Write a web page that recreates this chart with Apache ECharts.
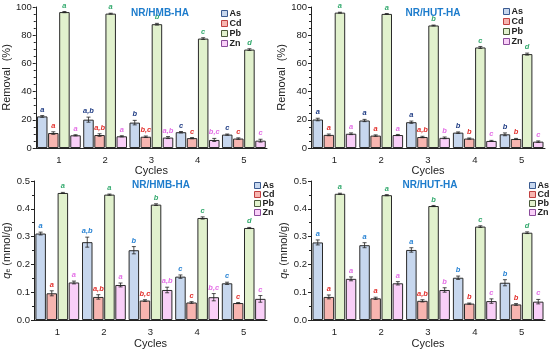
<!DOCTYPE html>
<html><head><meta charset="utf-8">
<script src="https://cdn.jsdelivr.net/npm/echarts@6/dist/echarts.min.js"></script>
<style>html,body{margin:0;padding:0;background:#fff}#c{width:550px;height:352px}</style>
</head><body><div id="c"></div>
<script>
const cycles = ['1','2','3','4','5'];
const metals = ['As','Cd','Pb','Zn'];
const removalTicks = [0,20,40,60,80,100];
const qeTicks = ['0.0','0.1','0.2','0.3','0.4','0.5'];

// Panel A: NR/HMB-HA removal (%)
const hmbRemAs = [22.4, 20.1, 18.0, 11.2, 9.5];
const hmbRemCd = [10.6, 9.2, 8.0, 7.0, 6.7];
const hmbRemPb = [96.4, 95.3, 87.8, 77.6, 69.8];
const hmbRemZn = [9.0, 8.3, 7.4, 5.7, 5.2];
const hmbRemErrAs = [0.6, 1.8, 1.6, 0.5, 0.4];
const hmbRemErrCd = [0.9, 0.9, 0.5, 0.4, 0.5];
const hmbRemErrPb = [0.4, 0.3, 0.6, 0.6, 0.6];
const hmbRemErrZn = [0.4, 0.4, 0.7, 1.1, 1.0];

// Panel B: NR/HUT-HA removal (%)
const hutRemAs = [20.2, 19.5, 18.3, 10.9, 9.7];
const hutRemCd = [9.3, 8.8, 7.8, 6.7, 6.4];
const hutRemPb = [96.0, 95.1, 86.9, 71.3, 66.6];
const hutRemZn = [10.1, 9.2, 7.2, 5.0, 4.5];
const hutRemErrAs = [0.9, 0.8, 0.8, 0.5, 1.0];
const hutRemErrCd = [0.6, 0.5, 0.5, 0.4, 0.4];
const hutRemErrPb = [0.3, 0.3, 0.3, 0.7, 0.7];
const hutRemErrZn = [0.6, 0.4, 0.6, 0.4, 0.5];

// Panel C: NR/HMB-HA qe (mmol/g)
const hmbQeAs = [0.311, 0.280, 0.251, 0.156, 0.132];
const hmbQeCd = [0.096, 0.083, 0.070, 0.063, 0.061];
const hmbQePb = [0.457, 0.451, 0.415, 0.367, 0.331];
const hmbQeZn = [0.135, 0.126, 0.108, 0.082, 0.076];
const hmbQeErrAs = [0.005, 0.018, 0.013, 0.006, 0.004];
const hmbQeErrCd = [0.009, 0.008, 0.003, 0.003, 0.002];
const hmbQeErrPb = [0.002, 0.002, 0.003, 0.004, 0.002];
const hmbQeErrZn = [0.005, 0.007, 0.010, 0.013, 0.012];

// Panel D: NR/HUT-HA qe (mmol/g)
const hutQeAs = [0.279, 0.269, 0.252, 0.152, 0.134];
const hutQeCd = [0.083, 0.078, 0.069, 0.059, 0.056];
const hutQePb = [0.454, 0.449, 0.410, 0.336, 0.314];
const hutQeZn = [0.148, 0.132, 0.108, 0.068, 0.066];
const hutQeErrAs = [0.009, 0.009, 0.008, 0.006, 0.011];
const hutQeErrCd = [0.007, 0.004, 0.004, 0.002, 0.003];
const hutQeErrPb = [0.002, 0.002, 0.002, 0.003, 0.003];
const hutQeErrZn = [0.007, 0.006, 0.008, 0.008, 0.008];

// Significance letters
const remHmbLettersAs = ['a','a,b','b','c','c'];
const remHmbLettersCd = ['a','a,b','b,c','c','c'];
const remHmbLettersPb = ['a','a','b','c','d'];
const remHmbLettersZn = ['a','a','a,b','b,c','c'];
const hutLettersAs = ['a','a','a','b','b'];
const hutLettersCd = ['a','a','a,b','b','b'];
const hutLettersPb = ['a','a','b','c','d'];
const hutLettersZn = ['a','a','b','c','c'];

const titles = ['NR/HMB-HA','NR/HUT-HA','NR/HMB-HA','NR/HUT-HA'];

const panels = [
  {vals:[hmbRemAs,hmbRemCd,hmbRemPb,hmbRemZn], errs:[hmbRemErrAs,hmbRemErrCd,hmbRemErrPb,hmbRemErrZn], letters:[remHmbLettersAs,remHmbLettersCd,remHmbLettersPb,remHmbLettersZn], q:false},
  {vals:[hutRemAs,hutRemCd,hutRemPb,hutRemZn], errs:[hutRemErrAs,hutRemErrCd,hutRemErrPb,hutRemErrZn], letters:[hutLettersAs,hutLettersCd,hutLettersPb,hutLettersZn], q:false},
  {vals:[hmbQeAs,hmbQeCd,hmbQePb,hmbQeZn], errs:[hmbQeErrAs,hmbQeErrCd,hmbQeErrPb,hmbQeErrZn], letters:[remHmbLettersAs,remHmbLettersCd,remHmbLettersPb,remHmbLettersZn], q:true},
  {vals:[hutQeAs,hutQeCd,hutQePb,hutQeZn], errs:[hutQeErrAs,hutQeErrCd,hutQeErrPb,hutQeErrZn], letters:[hutLettersAs,hutLettersCd,hutLettersPb,hutLettersZn], q:true}
];

const FONT = '"Liberation Sans", Arial, sans-serif';
const fills = ['#c7d7ee','#f7b5b0','#e1f1cd','#f9cff8'];
const iconBorders = ['#3a5a90','#c04040','#4a5a3a','#8a4a9a'];
const letterColorsTop = ['#1f3c84','#e3302c','#33aa6e','#e46fe6'];
const letterColorsBot = ['#2a84d4','#e3302c','#33aa6e','#e46fe6'];
const grids = [
  {left:33, top:7, width:234, height:141},
  {left:311, top:7, width:234, height:141},
  {left:33, top:181, width:234, height:139},
  {left:311, top:181, width:234, height:139}
];
const legendPos = [{left:216, top:4},{left:498, top:2},{left:249, top:176},{left:524, top:176}];
const titlePos = [{x:155,y:3},{x:428,y:3},{x:156,y:175},{x:425,y:175}];

const BW = 10.5, GAP = 0.6;
const series = [], xAxis = [], yAxis = [], legend = [], title = [];
panels.forEach((p, pi) => {
  xAxis.push({
    type:'category', gridIndex:pi, data:cycles,
    axisLine:{lineStyle:{color:'#222', width:1}}, axisTick:{show:false},
    axisLabel:{color:'#222', fontSize:9.5, fontFamily:FONT, margin:7},
    name:'Cycles', nameLocation:'middle', nameGap:p.q?18:16.5,
    nameTextStyle:{color:'#222', fontSize:11, fontFamily:FONT}
  });
  yAxis.push({
    type:'value', gridIndex:pi, min:0, max:p.q?0.5:100, interval:p.q?0.1:20,
    axisLine:{show:true, lineStyle:{color:'#222', width:1}},
    axisTick:{show:true, length:3, lineStyle:{color:'#222'}},
    minorTick:{show:true, splitNumber:p.q?2:4, length:2, lineStyle:{color:'#222'}},
    splitLine:{show:false},
    axisLabel:{color:'#222', fontSize:9.5, fontFamily:FONT, margin:4,
      formatter: v => p.q ? qeTicks[Math.round(v*10)] : String(removalTicks[Math.round(v/20)])},
    name: p.q ? '{i|q}{s|e}{n| (mmol/g)}' : 'Removal  (%)',
    nameLocation:'middle', nameGap: 22,
    nameTextStyle:{color:'#222', fontSize:11, fontFamily:FONT,
      rich:{i:{fontStyle:'italic', fontSize:11, fontFamily:FONT, color:'#222'},
            s:{fontSize:7, fontFamily:FONT, color:'#222', verticalAlign:'bottom', padding:[4,0,0,0]},
            n:{fontSize:11, fontFamily:FONT, color:'#222'}}}
  });
  legend.push({
    orient:'vertical', left:legendPos[pi].left, top:legendPos[pi].top,
    itemWidth:6, itemHeight:6, itemGap:p.q?0:1, icon:'rect',
    textStyle:{color:'#222', fontSize:9, fontWeight:'bold', fontFamily:FONT, padding:[0,0,0,-3]},
    data: metals.map((m, mi) => ({name: m + (pi ? '\u200b'.repeat(pi) : ''),
      itemStyle:{color:fills[mi], borderColor:iconBorders[mi], borderWidth:1}})),
    formatter: n => n.replace(/\u200b/g,''),
    selectedMode:false
  });
  title.push({
    text:titles[pi], left:titlePos[pi].x, top:titlePos[pi].y, textAlign:'center',
    textStyle:{color:'#1d7ccc', fontSize:10, fontWeight:'bold', fontFamily:FONT}
  });
  metals.forEach((m, mi) => {
    const nm = m + (pi ? '\u200b'.repeat(pi) : '');
    series.push({
      name:nm, type:'bar', xAxisIndex:pi, yAxisIndex:pi,
      data:p.vals[mi], barWidth:BW, barGap:(GAP/BW*100)+'%',
      itemStyle:{color:fills[mi], borderColor:'#2a2a2a', borderWidth:1},
      emphasis:{disabled:true}, animation:false
    });
  });
  metals.forEach((m, mi) => {
    const letters = p.letters[mi];
    const lc = (p.q ? letterColorsBot : letterColorsTop)[mi];
    series.push({
      type:'custom', xAxisIndex:pi, yAxisIndex:pi, z:5, animation:false, silent:true,
      data:p.vals[mi].map((v,i)=>[i, v, p.errs[mi][i]]),
      renderItem:(params, api) => {
        const ci = api.value(0), v = api.value(1), e = api.value(2);
        const total = 4*BW + 3*GAP;
        const off = -total/2 + mi*(BW+GAP) + BW/2;
        const c = api.coord([ci, v]);
        const x = c[0] + off;
        const yHi = api.coord([ci, v+e])[1];
        const yLo = api.coord([ci, v-e])[1];
        const cap = 2;
        return {type:'group', children:[
          {type:'line', shape:{x1:x, y1:yHi, x2:x, y2:yLo}, style:{stroke:'#222', lineWidth:0.8}},
          {type:'line', shape:{x1:x-cap, y1:yHi, x2:x+cap, y2:yHi}, style:{stroke:'#222', lineWidth:0.8}},
          {type:'line', shape:{x1:x-cap, y1:yLo, x2:x+cap, y2:yLo}, style:{stroke:'#222', lineWidth:0.8}},
          {type:'text', x:x, y:yHi-2, style:{text:letters[ci], fill:lc, fontSize:7.5, fontStyle:'italic', fontWeight:'bold', fontFamily:FONT, align:'center', verticalAlign:'bottom'}}
        ]};
      }
    });
  });
});

const chart = echarts.init(document.getElementById('c'), null, {renderer:'canvas'});
chart.setOption({animation:false, grid:grids, xAxis, yAxis, legend, title, series});
</script></body></html>
